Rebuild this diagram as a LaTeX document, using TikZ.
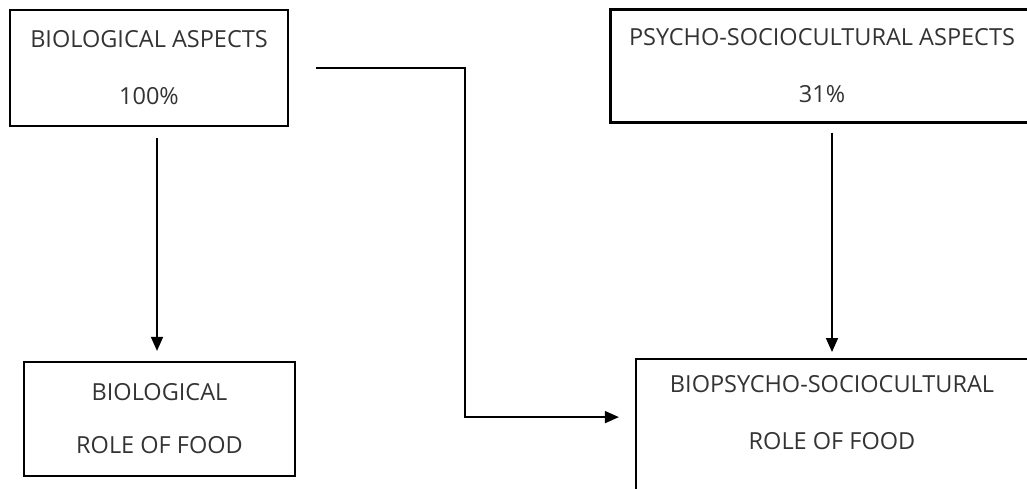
\documentclass[tikz,border=0pt]{standalone}
\usepackage{fontspec}
\setmainfont{Open Sans}
\usetikzlibrary{arrows.meta,positioning}

\begin{document}
\begin{tikzpicture}[x = 1pt, y = -1pt, >= {Triangle[length=14pt, width=12pt]}, every text node part/.style = {align = center},
	aspect/.style = {draw, line width = 2.2pt, text = black!80, font = \fontsize{23.5}{57}\selectfont, inner sep = 0pt},
	link/.style = {->, line width = 1.7pt}]
	\useasboundingbox (0,0) rectangle (1027,488);
	\node[aspect, minimum width = 278pt, minimum height = 116pt] (bio) at (149,68) {BIOLOGICAL ASPECTS\\ 100\%};
	\node[aspect, minimum width = 423pt, minimum height = 113pt] (psy) at (822,66) {PSYCHO-SOCIOCULTURAL ASPECTS\\ 31\%};
	\node[aspect, minimum width = 271pt, minimum height = 114pt] (biorole) at (159.5,419) {BIOLOGICAL\\[-4pt] ROLE OF FOOD};
	\node[aspect, minimum width = 392pt, minimum height = 180pt, anchor = north] (bpsrole) at (832,358) {BIOPSYCHO-SOCIOCULTURAL\\ ROLE OF FOOD\\ \strut};
	\path[link, shorten <= 11pt, shorten >= 10pt] ([xshift=8pt]bio.south) edge ([xshift=8pt]bio.south |- biorole.north);
	\path[link, shorten <= 9pt, shorten >= 6pt] (psy.south -| bpsrole.north) edge (bpsrole.north);
	\draw[link, shorten <= 27pt, shorten >= 16pt] (bio.east) -| ([xshift=-170pt, yshift=32pt]bpsrole.west) -- ([yshift=32pt]bpsrole.west);
\end{tikzpicture}
\end{document}
